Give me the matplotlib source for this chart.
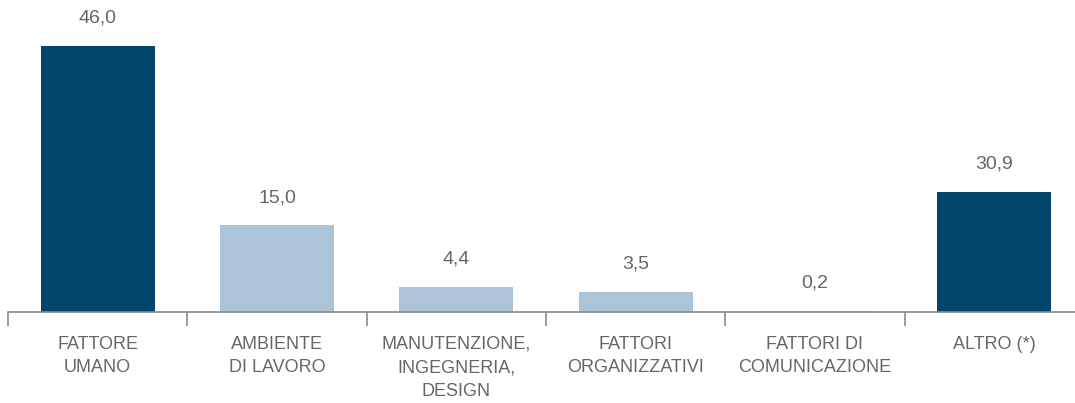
import numpy as np
import matplotlib.pyplot as plt

categories = ["FATTORE\nUMANO", "AMBIENTE\nDI LAVORO", "MANUTENZIONE,\nINGEGNERIA,\nDESIGN",
              "FATTORI\nORGANIZZATIVI", "FATTORI DI\nCOMUNICAZIONE", "ALTRO (*)"]
values = [46.0, 15.0, 4.4, 3.5, 0.2, 30.9]
# the ALTRO bar is drawn shorter than its label in the original chart
bar_heights = [46.0, 15.0, 4.4, 3.5, 0.2, 20.8]
colors = ["#02466e", "#adc3d8", "#adc3d8", "#adc3d8", "#adc3d8", "#02466e"]

plt.rcParams['font.family'] = ['Liberation Sans', 'DejaVu Sans']

fig = plt.figure(figsize=(10.75, 4.03), dpi=100)
ax = fig.add_axes([8 / 1075, 91 / 403, 1076 / 1075, 312 / 403])

x = np.arange(len(categories))
ax.bar(x, bar_heights, width=0.635, color=colors)

for xi, h, v in zip(x, bar_heights, values):
    ax.annotate(f"{v:.1f}".replace(".", ","), (xi, h), xytext=(0, 20), textcoords="offset points",
                ha="center", va="center", fontsize=14, color="#666666")

ax.set_xlim(-0.5, 5.5)
ax.set_ylim(0, 54)

for s in ["top", "right", "left"]:
    ax.spines[s].set_visible(False)
ax.spines["bottom"].set_color("#8a8a8a")
ax.spines["bottom"].set_linewidth(1.2)
ax.set_yticks([])

ax.set_xticks(x)
ax.set_xticklabels(categories, fontsize=13, color="#666666", linespacing=1.52)
ax.tick_params(axis="x", which="major", length=0, pad=17)
ax.set_xticks(np.arange(-0.5, 6, 1), minor=True)
ax.tick_params(axis="x", which="minor", length=10, width=1.2, color="#8a8a8a")
for lbl in ax.get_xticklabels():
    lbl.set_verticalalignment("top")

fig.savefig("out.png", dpi=100)
